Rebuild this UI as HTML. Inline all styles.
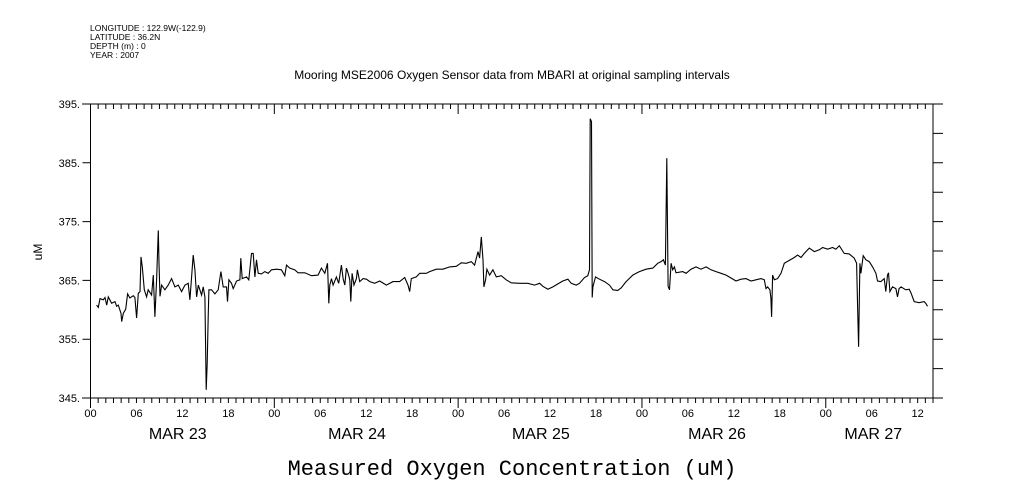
<!DOCTYPE html>
<html><head><meta charset="utf-8"><style>
html,body{margin:0;padding:0;background:#fff;}
svg{display:block;font-family:"Liberation Sans",sans-serif;}
</style></head><body>
<svg id="chart" width="1009" height="504" viewBox="0 0 1009 504" xmlns="http://www.w3.org/2000/svg">
<g font-size="8.5" fill="#000">
<text x="90" y="31">LONGITUDE : 122.9W(-122.9)</text>
<text x="90" y="40">LATITUDE : 36.2N</text>
<text x="90" y="49">DEPTH (m) : 0</text>
<text x="90" y="58">YEAR : 2007</text>
</g>
<text x="512" y="79" font-size="12" text-anchor="middle">Mooring MSE2006 Oxygen Sensor data from MBARI at original sampling intervals</text>
<text x="42" y="252" font-size="12" text-anchor="middle" transform="rotate(-90 42 252)">uM</text>
<text x="512" y="475" font-size="22" font-family="'Liberation Mono',monospace" text-anchor="middle">Measured Oxygen Concentration (uM)</text>
<g id="axes"></g>
<g id="series"></g>
</svg>
<script>
const hours=[0.80,1.02,1.24,1.67,1.89,2.11,2.33,2.76,3.20,3.41,3.63,3.98,4.07,4.28,4.59,4.85,5.15,5.59,5.80,6.02,6.24,6.46,6.59,6.76,7.02,7.33,7.54,7.98,8.20,8.41,8.63,8.85,8.94,9.07,9.28,9.72,10.15,10.59,11.02,11.46,11.89,12.33,12.76,12.98,13.20,13.41,13.63,13.85,14.07,14.50,14.72,14.94,15.02,15.11,15.24,15.37,15.46,15.80,16.24,16.67,17.02,17.33,17.76,17.89,18.07,18.41,18.63,19.07,19.50,19.63,19.80,20.37,20.67,21.02,21.24,21.46,21.67,21.89,22.33,22.76,23.20,23.63,24.28,24.93,25.37,25.59,26.02,26.67,27.11,27.98,28.85,29.72,30.15,30.59,30.94,31.11,31.24,31.46,31.67,32.11,32.41,32.76,32.98,33.20,33.41,33.63,33.85,33.98,34.15,34.41,34.72,34.85,35.15,35.59,36.02,36.46,37.11,37.76,38.63,39.50,40.37,41.02,41.46,41.67,41.89,42.54,42.98,43.85,44.28,45.15,46.02,46.89,47.76,48.41,49.07,49.72,50.15,50.59,50.80,51.02,51.24,51.37,51.59,51.76,52.11,52.54,52.98,53.63,54.28,54.93,56.02,57.11,57.98,58.63,59.07,59.72,60.37,61.02,61.67,62.33,62.76,63.41,63.85,64.50,64.93,65.15,65.24,65.41,65.50,65.59,65.93,66.46,67.11,67.76,68.20,68.85,69.28,69.93,70.80,71.67,72.54,73.41,74.06,74.50,74.80,75.06,75.24,75.41,75.59,75.80,76.02,76.24,76.45,77.32,77.76,78.41,79.06,79.71,80.37,81.02,81.67,82.32,82.98,83.63,84.28,84.93,85.58,86.24,86.89,87.54,87.98,88.19,88.41,88.71,88.84,88.93,89.06,89.28,89.71,90.15,90.58,91.24,91.89,92.32,92.76,93.19,93.85,94.50,95.15,95.58,96.24,96.89,97.32,97.76,98.41,99.06,99.71,100.02,100.15,100.28,100.45,100.58,100.89,101.24,101.67,102.11,102.54,102.76,103.19,103.63,103.84,104.06,104.19,104.37,104.71,105.15,105.37,105.58,105.84,106.45,106.89,107.11,107.54,108.19,108.84,109.06,109.28];
const oxygen=[360.8,360.4,361.9,361.7,362.1,360.8,362.2,361.1,361.4,360.6,360.8,359.4,358.0,359.4,360.1,362.7,362.0,362.4,362.1,358.6,362.8,363.1,369.0,367.3,363.4,362.2,363.4,362.5,365.9,358.8,365.1,373.5,367.9,362.3,364.2,363.4,364.2,365.3,363.9,364.2,363.1,364.2,364.5,361.7,365.6,369.3,366.8,362.2,364.2,362.5,363.9,362.2,354.9,346.4,350.9,358.8,363.4,363.4,362.7,363.4,366.5,363.9,363.9,361.4,365.1,364.5,363.6,364.9,365.1,368.8,365.3,365.6,365.1,369.6,369.6,365.6,368.5,366.2,366.1,366.5,366.2,366.8,366.9,366.8,365.8,367.6,367.1,366.8,366.3,366.3,365.8,365.9,367.1,366.2,367.9,361.1,364.2,365.3,364.2,365.6,364.5,367.6,365.3,364.2,367.1,366.2,365.1,361.4,366.2,364.2,365.3,366.8,364.8,365.3,365.2,364.8,364.5,364.9,364.2,364.8,364.8,365.5,364.2,363.1,365.3,365.6,366.2,366.2,366.5,366.9,366.9,367.3,367.4,368.0,367.9,368.2,367.6,369.9,368.8,372.4,368.5,363.9,365.1,366.9,365.9,366.8,365.6,365.8,365.1,364.6,364.5,364.5,364.2,364.5,364.0,363.5,363.9,364.4,364.9,365.2,364.5,364.2,364.5,365.5,365.8,366.8,392.5,392.0,362.1,363.9,365.6,365.2,364.8,364.2,363.4,363.3,363.7,364.8,365.9,366.5,366.9,367.1,367.9,368.2,368.5,367.6,385.8,364.0,363.4,367.9,366.8,367.3,366.3,366.5,366.2,366.9,367.3,366.9,367.3,366.8,366.5,366.2,365.9,365.4,364.9,365.2,365.3,364.9,365.1,365.3,365.1,363.6,363.9,363.4,362.0,358.8,365.9,365.1,365.3,366.2,367.9,368.4,368.9,369.3,368.9,369.6,370.5,369.9,370.2,370.6,370.3,370.6,370.3,370.9,369.6,369.5,368.8,367.9,360.5,353.7,367.9,366.2,369.2,368.5,368.2,367.3,366.2,364.9,364.8,365.3,363.1,365.9,366.3,363.1,363.9,363.6,362.2,363.6,363.9,363.4,363.5,362.9,361.4,361.2,361.4,361.1,360.6];
const yTicks=[345,355,365,375,385,395];
const hourLabels=["00","06","12","18"];
const dayNames=["MAR 23","MAR 24","MAR 25","MAR 26","MAR 27"];
const dayLabelHours=[11.4,34.8,58.8,81.8,102.2];
const xMin=0,xMax=110,yMin=345,yMax=395;
const L=90.5,R=933,T=104,B=398;
const NS="http://www.w3.org/2000/svg";
function xs(h){return L+(h-xMin)/(xMax-xMin)*(R-L);}
function ys(v){return B-(v-yMin)/(yMax-yMin)*(B-T);}
function mk(tag,attrs,parent){const e=document.createElementNS(NS,tag);for(const k in attrs)e.setAttribute(k,attrs[k]);parent.appendChild(e);return e;}
const ax=document.getElementById('axes');
let d=`M${L},${T}H${R}V${B}H${L}Z M82,${B}H${L} M82,${T}H${L}`;
for(let v=yMin;v<=yMax;v+=5){const y=ys(v);d+=` M${R},${y}H${R+10}`;if((v-yMin)%10===0)d+=` M${L-8},${y}H${L}`;}
for(let h=0;h<=xMax;h++){const x=xs(h);if(x>R+0.5)break;const big=h%24===0;d+=` M${x},${B}V${B+(big?10:5)} M${x},${T}V${T+(big?10:5)}`;}
const frame=mk('path',{d:d,stroke:'#000','stroke-width':1,fill:'none'},ax);


yTicks.forEach(v=>{const t=mk('text',{x:80,y:ys(v)+4,'font-size':11,'text-anchor':'end'},ax);t.textContent=v+'.';

});
for(let h=0;h<=xMax;h+=6){const x=xs(h);if(x>R+0.5)break;const t=mk('text',{x:x,y:417,'font-size':11,'text-anchor':'middle'},ax);t.textContent=hourLabels[(h/6)%4];

}
dayNames.forEach((n,i)=>{const t=mk('text',{x:xs(dayLabelHours[i]),y:439,'font-size':16,'text-anchor':'middle'},ax);t.textContent=n;

});
const pts=hours.map((h,i)=>xs(h).toFixed(1)+','+ys(oxygen[i]).toFixed(1)).join(' ');
const line=mk('polyline',{points:pts,fill:'none',stroke:'#000','stroke-width':1.1},document.getElementById('series'));


</script>
</body></html>
